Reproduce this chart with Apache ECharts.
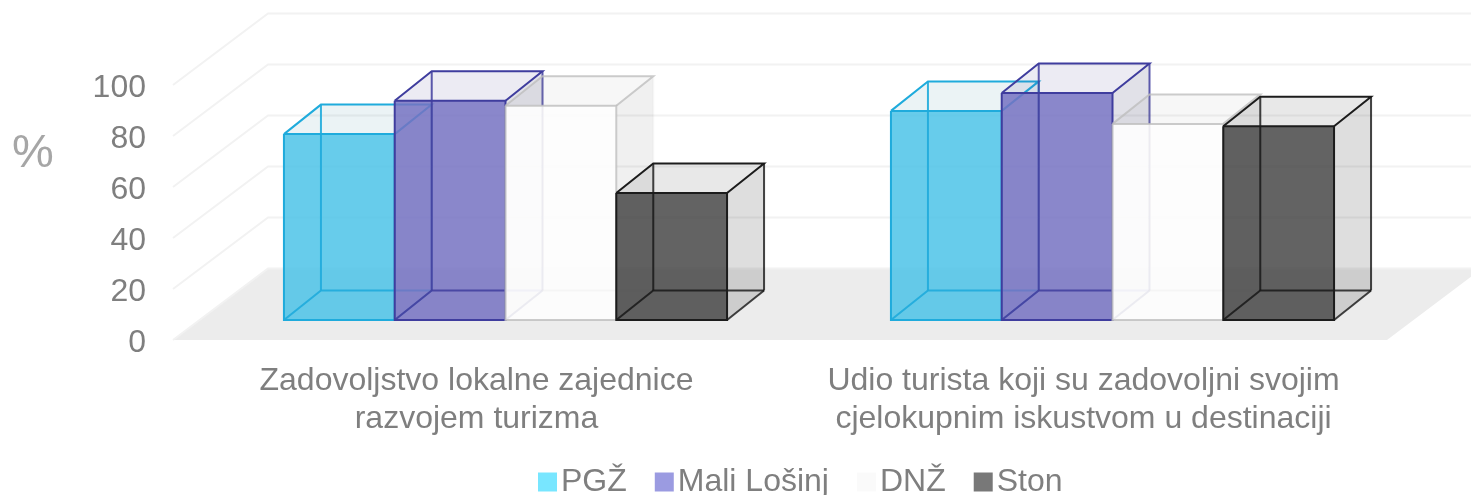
<!DOCTYPE html>
<html>
<head>
<meta charset="utf-8">
<style>
  html, body { margin: 0; padding: 0; background: #fff; }
  #chart { width: 1471px; height: 495px; filter: blur(0.6px); }
</style>
</head>
<body>
<div id="chart"></div>
<script src="https://cdn.jsdelivr.net/npm/echarts@6/dist/echarts.min.js"></script>
<script>
const categories = [
  "Zadovoljstvo lokalne zajednice\nrazvojem turizma",
  "Udio turista koji su zadovoljni svojim\ncjelokupnim iskustvom u destinaciji",
];
const seriesNames = ["PGŽ", "Mali Lošinj", "DNŽ", "Ston"];
const pgz = [72.9, 82];
const maliLosinj = [86, 89];
const dnz = [84, 76.9];
const ston = [49.8, 76];
const yTicks = [0, 20, 40, 60, 80, 100];

// fake 3D: how far things are pushed back, in px
const WALL_DX = 95;
const WALL_DY = -71.5;
const BAR_FRONT = [29, -20];
const BAR_BACK = [66, -49.5];
const BAR_SHARE = 0.1825;

const barStyles = [
  { legend: "#78e6ff", front: "rgba(76,195,232,.85)", top: "rgba(55,135,155,.1)", side: "rgba(55,135,155,.12)", line: "#1fabdc", hidden: "rgba(31,171,220,.9)" },
  { legend: "#9b9be1", front: "rgba(118,114,194,.85)", top: "rgba(65,55,135,.1)", side: "rgba(55,55,102,.15)", line: "#3f3d9e", hidden: "rgba(63,61,158,.85)" },
  { legend: "#fafafa", front: "rgba(253,253,253,.93)", top: "rgba(0,0,0,.03)", side: "rgba(0,0,0,.06)", line: "rgba(190,190,190,.8)", hidden: "rgba(200,200,200,.12)" },
  { legend: "#787878", front: "rgba(60,60,60,.8)", top: "rgba(0,0,0,.09)", side: "rgba(0,0,0,.13)", line: "#1c1c1c", hidden: "rgba(20,20,20,.8)" },
];

function renderFloor(params, api) {
  const rect = params.coordSys;
  const y0 = api.coord([0, api.value(0)])[1];
  return {
    type: "polygon",
    shape: {
      points: [
        [rect.x, y0],
        [rect.x + rect.width, y0],
        [rect.x + rect.width + WALL_DX, y0 + WALL_DY],
        [rect.x + WALL_DX, y0 + WALL_DY],
      ],
    },
    style: { fill: "#ececec" },
  };
}

function renderGridLine(params, api) {
  const rect = params.coordSys;
  const y = api.coord([0, api.value(0)])[1];
  return {
    type: "polyline",
    shape: {
      points: [
        [rect.x, y],
        [rect.x + WALL_DX, y + WALL_DY],
        [rect.x + rect.width + WALL_DX, y + WALL_DY],
      ],
    },
    style: { stroke: "#f2f2f2", lineWidth: 2, fill: null },
  };
}

function makeBarRenderer(index) {
  const st = barStyles[index];
  return function (params, api) {
    const top = api.coord([api.value(0), api.value(1)]);
    const base = api.coord([api.value(0), 0]);
    const w = api.size([1, 0])[0] * BAR_SHARE;
    const l = base[0] + (index - 2) * w + BAR_FRONT[0];
    const r = l + w;
    const fy = base[1] + BAR_FRONT[1];
    const ty = top[1] + BAR_FRONT[1];
    const dx = BAR_BACK[0] - BAR_FRONT[0];
    const dy = BAR_BACK[1] - BAR_FRONT[1];

    const poly = (points, fill) => ({ type: "polygon", shape: { points }, style: { fill } });
    const line = (points, stroke) => ({
      type: "polyline",
      shape: { points },
      style: { stroke, lineWidth: 2, fill: null },
    });

    return {
      type: "group",
      children: [
        poly([[r, ty], [r + dx, ty + dy], [r + dx, fy + dy], [r, fy]], st.side),
        poly([[l, ty], [l + dx, ty + dy], [r + dx, ty + dy], [r, ty]], st.top),
        poly([[l, ty], [r, ty], [r, fy], [l, fy]], st.front),
        // edges behind the front face
        line([[l, fy], [l + dx, fy + dy], [r + dx, fy + dy]], st.hidden),
        line([[l + dx, fy + dy], [l + dx, ty + dy]], st.hidden),
        line([[r, fy], [r + dx, fy + dy]], st.hidden),
        // visible edges
        line([[l, ty], [r, ty], [r, fy], [l, fy], [l, ty]], st.line),
        line([[l, ty], [l + dx, ty + dy], [r + dx, ty + dy], [r, ty]], st.line),
        line([[r + dx, ty + dy], [r + dx, fy + dy]], st.hidden),
      ],
    };
  };
}

const barValues = [pgz, maliLosinj, dnz, ston];

const chart = echarts.init(document.getElementById("chart"));
chart.setOption({
  animation: false,
  title: {
    text: "%",
    left: 7,
    top: 126,
    textStyle: { color: "#a6a6a6", fontSize: 47, fontWeight: "normal", fontFamily: "Liberation Sans" },
  },
  legend: {
    data: seriesNames,
    left: 533,
    top: 461,
    icon: "rect",
    itemWidth: 19,
    itemHeight: 19,
    itemGap: 28,
    textStyle: { color: "#7f7f7f", fontSize: 32, fontFamily: "Liberation Sans", padding: [0, 0, 0, -1] },
  },
  grid: { left: 173, right: 84, top: 85, height: 255 },
  xAxis: {
    type: "category",
    data: categories,
    axisLine: { show: false },
    axisTick: { show: false },
    axisLabel: { interval: 0, color: "#7f7f7f", fontSize: 32, lineHeight: 38, margin: 22, fontFamily: "Liberation Sans" },
  },
  yAxis: {
    type: "value",
    min: 0,
    max: 100,
    interval: 20,
    axisLine: { show: false },
    axisTick: { show: false },
    splitLine: { show: false },
    axisLabel: {
      margin: 27,
      formatter: "{v|{value}}",
      rich: { v: { color: "#7f7f7f", fontSize: 32, padding: [6, 0, 0, 0], fontFamily: "Liberation Sans" } },
    },
  },
  series: [
    { type: "custom", silent: true, data: [[yTicks[0]]], renderItem: renderFloor, encode: { y: 0 } },
    { type: "custom", silent: true, data: yTicks.map((t) => [t]), renderItem: renderGridLine, encode: { y: 0 } },
    ...seriesNames.map((name, i) => ({
      name,
      type: "custom",
      silent: true,
      itemStyle: { color: barStyles[i].legend },
      data: barValues[i].map((v, c) => [c, v]),
      encode: { x: 0, y: 1 },
      renderItem: makeBarRenderer(i),
    })),
  ],
});
</script>
</body>
</html>
